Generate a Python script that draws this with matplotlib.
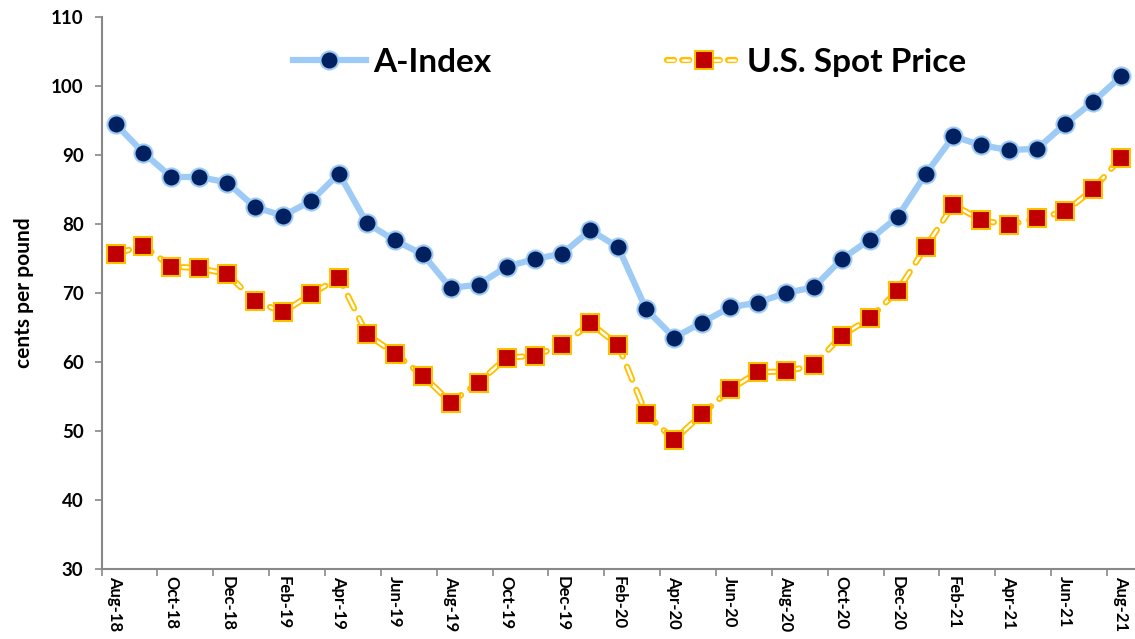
import numpy as np
import matplotlib
matplotlib.use("Agg")
from matplotlib import pyplot as plt
from matplotlib.legend_handler import HandlerTuple
from matplotlib.lines import Line2D

plt.rcParams['font.family'] = ['Lato', 'DejaVu Sans']
plt.rcParams['lines.scale_dashes'] = False

months = ['Aug-18', 'Sep-18', 'Oct-18', 'Nov-18', 'Dec-18', 'Jan-19', 'Feb-19', 'Mar-19',
          'Apr-19', 'May-19', 'Jun-19', 'Jul-19', 'Aug-19', 'Sep-19', 'Oct-19', 'Nov-19',
          'Dec-19', 'Jan-20', 'Feb-20', 'Mar-20', 'Apr-20', 'May-20', 'Jun-20', 'Jul-20',
          'Aug-20', 'Sep-20', 'Oct-20', 'Nov-20', 'Dec-20', 'Jan-21', 'Feb-21', 'Mar-21',
          'Apr-21', 'May-21', 'Jun-21', 'Jul-21', 'Aug-21']

a_index = [94.5, 90.3, 86.8, 86.8, 86.0, 82.4, 81.2, 83.3, 87.3, 80.1, 77.6, 75.6,
           70.7, 71.2, 73.8, 74.9, 75.7, 79.1, 76.6, 67.6, 63.5, 65.7, 67.9, 68.6,
           70.0, 70.8, 74.9, 77.7, 81.0, 87.2, 92.7, 91.4, 90.7, 90.9, 94.5, 97.7, 101.4]

spot = [75.7, 76.8, 73.8, 73.6, 72.7, 68.8, 67.2, 69.8, 72.2, 64.0, 61.2, 58.0,
        54.1, 57.0, 60.6, 60.9, 62.4, 65.6, 62.4, 52.4, 48.7, 52.4, 56.0, 58.5,
        58.6, 59.5, 63.8, 66.3, 70.3, 76.6, 82.8, 80.5, 79.9, 80.8, 81.8, 85.0, 89.6]

yticks = [30, 40, 50, 60, 70, 80, 90, 100, 110]

x = np.arange(len(months))

fig = plt.figure(figsize=(11.35, 6.39), dpi=100)
ax = fig.add_axes([0.0895, 0.110, 0.9105, 0.8634])

# A-Index
ax.plot(x, a_index, color='#9DCBF5', lw=4.5, solid_capstyle='round', zorder=2)
ax.plot(x, a_index, ls='none', marker='o', ms=13, mfc='#002060', mec='#9DCBF5', mew=1.5, zorder=4)

# U.S. Spot Price: gold outlined dashes with white interior
dash = (0, (10, 8))
ax.plot(x, spot, color='#FFC000', lw=4.5, ls=dash, dash_capstyle='round', zorder=2)
ax.plot(x, spot, color='white', lw=1.8, ls=dash, dash_capstyle='round', zorder=3)
ax.plot(x, spot, ls='none', marker='s', ms=13.5, mfc='#C00000', mec='#FFC000', mew=1.5, zorder=4)

ax.set_xlim(-0.5, len(months) - 0.5)
ax.set_ylim(30, 110)
ax.set_yticks(yticks)
ax.set_yticklabels([str(v) for v in yticks], fontsize=13.5, fontweight='bold')

ax.set_xticks(x[::2])
ax.set_xticklabels(months[::2], rotation=270, fontsize=12, fontweight='bold', va='top', ha='center')
ax.set_xticks(np.arange(-0.5, len(months), 2), minor=True)
ax.tick_params(axis='x', which='major', length=0, pad=5)
ax.tick_params(axis='x', which='minor', length=5, color='#888888', width=1.2)
ax.tick_params(axis='y', length=5, color='#888888', width=1.2, pad=8)

for s in ['top', 'right']:
    ax.spines[s].set_visible(False)
for s in ['left', 'bottom']:
    ax.spines[s].set_color('#888888')
    ax.spines[s].set_linewidth(1.5)

ax.set_ylabel('cents per pound', fontsize=15, fontweight='bold', labelpad=12)

# legend
h1 = (Line2D([], [], color='#9DCBF5', lw=4.5),
      Line2D([], [], ls='none', marker='o', ms=13, mfc='#002060', mec='#9DCBF5', mew=1.5))
h2 = (Line2D([], [], color='#FFC000', lw=4.5, ls=(0, (5, 6)), dash_capstyle='round'),
      Line2D([], [], color='white', lw=1.8, ls=(0, (5, 6)), dash_capstyle='round'),
      Line2D([], [], ls='none', marker='s', ms=13.5, mfc='#C00000', mec='#FFC000', mew=1.5))
ax.legend([h1, h2], ['A-Index', 'U.S. Spot Price'], handler_map={tuple: HandlerTuple(ndivide=1)},
          loc='upper center', bbox_to_anchor=(0.511, 0.999), ncol=2, frameon=False,
          prop={'size': 24, 'weight': 'bold'}, handlelength=2.2, handletextpad=0.2,
          columnspacing=5.3)

fig.savefig('out.png', dpi=100)
